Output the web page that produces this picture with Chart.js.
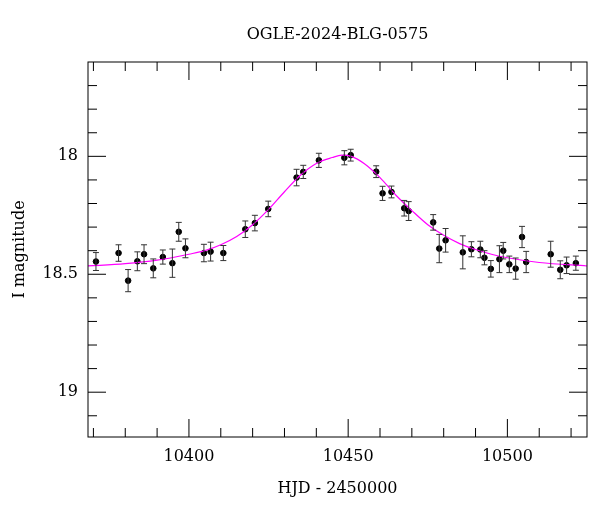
<!DOCTYPE html>
<html>
<head>
<meta charset="utf-8">
<script src="https://cdn.jsdelivr.net/npm/chart.js@4"></script>
<style>
  html, body { margin: 0; padding: 0; background: #fff; }
  #wrap { width: 600px; height: 512px; }
</style>
</head>
<body>
<div id="wrap"><canvas id="lc"></canvas></div>
<script>
// observations: HJD - 2450000, I magnitude, 1-sigma error
const OBS_T = [10370.8, 10377.9, 10380.9, 10383.8, 10385.9, 10388.8, 10391.8, 10394.8, 10396.8, 10398.9,
  10404.7, 10406.8, 10410.8, 10417.7, 10420.7, 10424.9, 10433.8, 10435.9, 10440.8, 10448.8,
  10450.8, 10458.8, 10460.8, 10463.6, 10467.6, 10469.0, 10476.7, 10478.6, 10480.6, 10486.0,
  10488.7, 10491.5, 10492.8, 10494.8, 10497.5, 10498.7, 10500.6, 10502.6, 10504.6, 10505.9,
  10513.6, 10516.6, 10518.6, 10521.5];
const OBS_MAG = [18.446, 18.41, 18.527, 18.445, 18.415, 18.475, 18.427, 18.453, 18.32, 18.39,
  18.41, 18.404, 18.41, 18.309, 18.283, 18.223, 18.09, 18.066, 18.017, 18.006,
  17.995, 18.065, 18.157, 18.151, 18.22, 18.232, 18.28, 18.391, 18.356, 18.407,
  18.394, 18.395, 18.43, 18.477, 18.436, 18.4, 18.458, 18.476, 18.342, 18.448,
  18.415, 18.481, 18.462, 18.453];
const OBS_ERR = [0.038, 0.035, 0.047, 0.04, 0.04, 0.04, 0.03, 0.06, 0.04, 0.04,
  0.037, 0.04, 0.032, 0.035, 0.033, 0.033, 0.035, 0.028, 0.03, 0.03,
  0.025, 0.025, 0.03, 0.025, 0.033, 0.04, 0.033, 0.06, 0.05, 0.07,
  0.032, 0.035, 0.03, 0.035, 0.057, 0.035, 0.035, 0.045, 0.045, 0.045,
  0.055, 0.038, 0.035, 0.03];

// model curve
const MODEL_T = [10368, 10380, 10390, 10400, 10405, 10410, 10415, 10420, 10425, 10430, 10435, 10440,
  10445, 10448, 10451, 10455, 10460, 10465, 10470, 10475, 10480, 10485, 10490, 10495, 10500, 10510, 10525];
const MODEL_MAG = [18.465, 18.455, 18.44, 18.415, 18.40, 18.375, 18.34, 18.29, 18.225, 18.15, 18.08, 18.03,
  18.005, 17.995, 18.0, 18.03, 18.09, 18.165, 18.23, 18.29, 18.335, 18.37, 18.395, 18.415, 18.43, 18.45, 18.465];

const X_MAJOR = [10400, 10450, 10500];
const X_MINOR = [10370, 10380, 10390, 10410, 10420, 10430, 10440, 10460, 10470, 10480, 10490, 10510, 10520];
const Y_MAJOR = [18, 18.5, 19];
const Y_MINOR = [17.7, 17.8, 17.9, 18.1, 18.2, 18.3, 18.4, 18.6, 18.7, 18.8, 18.9, 19.1];

const FONT = 'DejaVu Serif';

const errorBars = {
  id: 'errorBars',
  afterDatasetsDraw(chart) {
    const { ctx, scales: { x, y } } = chart;
    ctx.save();
    ctx.strokeStyle = '#333';
    ctx.lineWidth = 1;
    OBS_T.forEach((t, i) => {
      const px = x.getPixelForValue(t);
      const y0 = y.getPixelForValue(OBS_MAG[i] - OBS_ERR[i]);
      const y1 = y.getPixelForValue(OBS_MAG[i] + OBS_ERR[i]);
      ctx.beginPath();
      ctx.moveTo(px, y0); ctx.lineTo(px, y1);
      ctx.moveTo(px - 3, y0); ctx.lineTo(px + 3, y0);
      ctx.moveTo(px - 3, y1); ctx.lineTo(px + 3, y1);
      ctx.stroke();
    });
    ctx.restore();
  },
};

// inward ticks on all four sides, plus frame and title
const frame = {
  id: 'frame',
  afterDraw(chart) {
    const { ctx, chartArea: a, scales: { x, y } } = chart;
    ctx.save();
    ctx.strokeStyle = '#000';
    ctx.lineWidth = 1;
    ctx.strokeRect(a.left, a.top, a.right - a.left, a.bottom - a.top);
    ctx.beginPath();
    const xt = (vals, len) => vals.forEach((v) => {
      const p = x.getPixelForValue(v);
      ctx.moveTo(p, a.bottom); ctx.lineTo(p, a.bottom - len);
      ctx.moveTo(p, a.top); ctx.lineTo(p, a.top + len);
    });
    const yt = (vals, len) => vals.forEach((v) => {
      const p = y.getPixelForValue(v);
      ctx.moveTo(a.left, p); ctx.lineTo(a.left + len, p);
      ctx.moveTo(a.right, p); ctx.lineTo(a.right - len, p);
    });
    xt(X_MAJOR, 18); xt(X_MINOR, 9);
    yt(Y_MAJOR, 18); yt(Y_MINOR, 9);
    ctx.stroke();
    ctx.fillStyle = '#000';
    ctx.font = '16px "' + FONT + '"';
    ctx.textAlign = 'center';
    ctx.textBaseline = 'middle';
    ctx.fillText('OGLE-2024-BLG-0575', (a.left + a.right) / 2, 35);
    ctx.restore();
  },
};

new Chart(document.getElementById('lc'), {
  type: 'scatter',
  data: {
    datasets: [
      {
        label: 'model',
        type: 'line',
        data: MODEL_T.map((t, i) => ({ x: t, y: MODEL_MAG[i] })),
        borderColor: '#ff00ff',
        borderWidth: 1.2,
        pointRadius: 0,
        cubicInterpolationMode: 'monotone',
        fill: false,
      },
      {
        label: 'OGLE',
        data: OBS_T.map((t, i) => ({ x: t, y: OBS_MAG[i] })),
        backgroundColor: '#000',
        borderColor: '#000',
        pointRadius: 2.8,
      },
    ],
  },
  options: {
    responsive: true,
    maintainAspectRatio: false,
    animation: false,
    layout: { padding: { top: 62, right: 13, left: 0, bottom: 0 } },
    plugins: { legend: { display: false }, tooltip: { enabled: false } },
    scales: {
      x: {
        type: 'linear',
        min: 10368.3,
        max: 10525,
        afterBuildTicks: (s) => { s.ticks = X_MAJOR.map((v) => ({ value: v })); },
        afterFit: (s) => { s.height = 75; },
        grid: { display: false, drawTicks: false },
        border: { display: false },
        ticks: { color: '#000', padding: 10, font: { family: FONT, size: 16 }, callback: (v) => String(v) },
        title: { display: true, text: 'HJD - 2450000', color: '#000', padding: { top: 4, bottom: 14 }, font: { family: FONT, size: 16 } },
      },
      y: {
        type: 'linear',
        reverse: true,
        min: 17.6,
        max: 19.19,
        afterBuildTicks: (s) => { s.ticks = Y_MAJOR.map((v) => ({ value: v })); },
        afterFit: (s) => { s.width = 88; },
        grid: { display: false, drawTicks: false },
        border: { display: false },
        ticks: { color: '#000', padding: 10, font: { family: FONT, size: 16 }, callback: (v) => String(v) },
        title: { display: true, text: 'I magnitude', color: '#000', padding: { top: 10, bottom: 0 }, font: { family: FONT, size: 16 } },
      },
    },
  },
  plugins: [errorBars, frame],
});
</script>
</body>
</html>
